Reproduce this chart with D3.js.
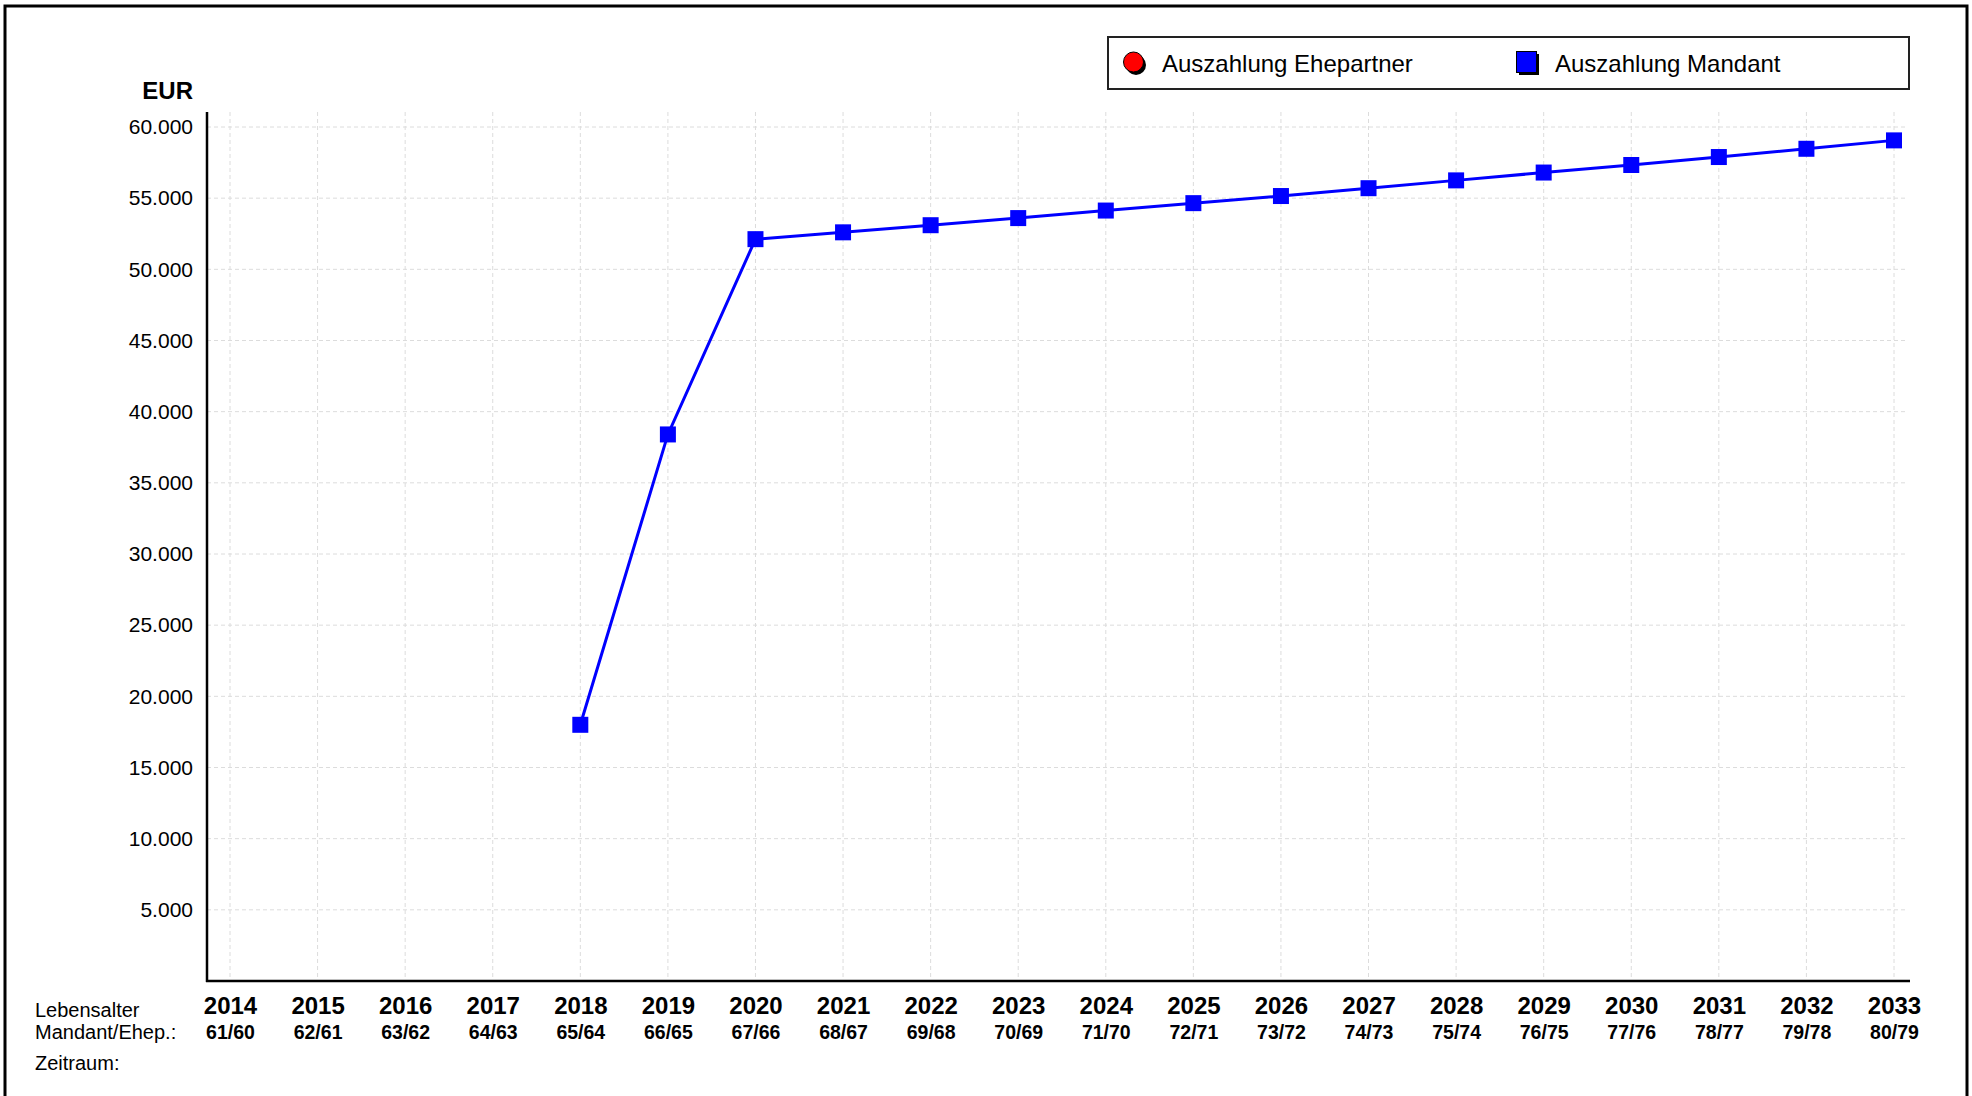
<!DOCTYPE html>
<html>
<head>
  <meta charset="utf-8">
  <title>Auszahlung</title>
  <script src="https://cdn.jsdelivr.net/npm/d3@7"></script>
  <style type="text/css">
    body {
      margin: 0;
      background: #fff;
      font-family: "Liberation Sans", Arial, Helvetica, sans-serif;
    }
    svg { display: block; }
    .grid line {
      stroke: #dcdcdc;
      stroke-width: 1;
      stroke-dasharray: 4,3;
    }
  </style>
</head>
<body>
  <svg id="chart" width="1972" height="1096"></svg>
  <script type="text/javascript">

  const years = ['2014','2015','2016','2017','2018','2019','2020','2021','2022','2023',
                 '2024','2025','2026','2027','2028','2029','2030','2031','2032','2033'];
  const ages = ['61/60','62/61','63/62','64/63','65/64','66/65','67/66','68/67','69/68','70/69',
                '71/70','72/71','73/72','74/73','75/74','76/75','77/76','78/77','79/78','80/79'];
  // Auszahlung Mandant, starts 2018
  const mandantYears = ['2018','2019','2020','2021','2022','2023','2024','2025',
                        '2026','2027','2028','2029','2030','2031','2032','2033'];
  const mandantValues = [18000, 38400, 52120, 52600, 53100, 53600, 54130, 54650,
                         55150, 55700, 56250, 56800, 57330, 57890, 58470, 59060];
  const yTicks = [5000,10000,15000,20000,25000,30000,35000,40000,45000,50000,55000,60000];
  const seriesNames = ['Auszahlung Ehepartner', 'Auszahlung Mandant'];

  const svg = d3.select('#chart');
  const fmt = d3.formatLocale({decimal: ',', thousands: '.', grouping: [3], currency: ['', ' EUR']}).format(',d');

  const x = d3.scalePoint().domain(years).range([230, 1894]);
  const y = d3.scaleLinear().domain([0, 60000]).range([981, 127]);
  const axisLeft = 207, axisRight = 1910, axisTop = 112;

  // outer frame
  svg.append('rect')
    .attr('x', 5).attr('y', 6).attr('width', 1962).attr('height', 1120)
    .attr('fill', 'none').attr('stroke', '#000').attr('stroke-width', 3);

  // grid
  const grid = svg.append('g').attr('class', 'grid');
  grid.selectAll('line.h').data(yTicks).enter().append('line')
    .attr('class', 'h')
    .attr('x1', axisLeft).attr('x2', axisRight - 3)
    .attr('y1', d => y(d)).attr('y2', d => y(d));
  grid.selectAll('line.v').data(years).enter().append('line')
    .attr('class', 'v')
    .attr('x1', d => x(d)).attr('x2', d => x(d))
    .attr('y1', axisTop).attr('y2', y(0));

  // y axis
  const yAxis = svg.append('g')
    .attr('transform', `translate(${axisLeft},0)`)
    .call(d3.axisLeft(y).tickValues(yTicks).tickSize(0).tickPadding(14).tickFormat(fmt));
  yAxis.select('.domain').remove();
  yAxis.selectAll('text')
    .attr('font-family', '"Liberation Sans", Arial, sans-serif')
    .attr('font-size', 21).attr('fill', '#000');

  svg.append('line')
    .attr('x1', axisLeft).attr('x2', axisLeft)
    .attr('y1', axisTop).attr('y2', y(0) + 1)
    .attr('stroke', '#000').attr('stroke-width', 2.5);
  svg.append('line')
    .attr('x1', axisLeft - 1).attr('x2', axisRight)
    .attr('y1', y(0)).attr('y2', y(0))
    .attr('stroke', '#000').attr('stroke-width', 2.5);

  svg.append('text')
    .attr('x', 193).attr('y', 99)
    .attr('text-anchor', 'end')
    .attr('font-size', 24).attr('font-weight', 'bold')
    .text('EUR');

  // x axis labels
  const xAxis = svg.append('g')
    .attr('transform', `translate(0,${y(0)})`)
    .call(d3.axisBottom(x).tickSize(0).tickPadding(0));
  xAxis.select('.domain').remove();
  xAxis.selectAll('text').remove();
  xAxis.selectAll('.tick').append('text')
    .attr('y', 33).attr('text-anchor', 'middle')
    .attr('font-family', '"Liberation Sans", Arial, sans-serif')
    .attr('font-size', 24).attr('font-weight', 'bold').attr('fill', '#000')
    .text(d => d);
  xAxis.selectAll('.tick').append('text')
    .attr('y', 58).attr('text-anchor', 'middle')
    .attr('font-family', '"Liberation Sans", Arial, sans-serif')
    .attr('font-size', 19.5).attr('font-weight', 'bold').attr('fill', '#000')
    .text((d, i) => ages[i]);

  const rowLabels = svg.append('g').attr('font-size', 20);
  rowLabels.append('text').attr('x', 35).attr('y', 1017).text('Lebensalter');
  rowLabels.append('text').attr('x', 35).attr('y', 1039).text('Mandant/Ehep.:');
  rowLabels.append('text').attr('x', 35).attr('y', 1070).text('Zeitraum:');

  // series
  const pts = mandantYears.map((yr, i) => ({year: yr, value: mandantValues[i]}));
  const line = d3.line().x(d => x(d.year)).y(d => y(d.value));
  svg.append('path').datum(pts)
    .attr('d', line)
    .attr('fill', 'none').attr('stroke', '#0000ff').attr('stroke-width', 3);
  svg.selectAll('rect.marker').data(pts).enter().append('rect')
    .attr('class', 'marker')
    .attr('x', d => x(d.year) - 8).attr('y', d => y(d.value) - 8)
    .attr('width', 16).attr('height', 16)
    .attr('fill', '#0000ff');

  // legend
  const legend = svg.append('g');
  legend.append('rect')
    .attr('x', 1108).attr('y', 37).attr('width', 801).attr('height', 52)
    .attr('fill', '#fff').attr('stroke', '#222').attr('stroke-width', 2);
  legend.append('circle').attr('cx', 1136).attr('cy', 65).attr('r', 10).attr('fill', '#000');
  legend.append('circle').attr('cx', 1133.5).attr('cy', 62).attr('r', 10)
    .attr('fill', '#ff0000').attr('stroke', '#000').attr('stroke-width', 1);
  legend.append('text').attr('x', 1162).attr('y', 72).attr('font-size', 24).text(seriesNames[0]);
  legend.append('rect').attr('x', 1519).attr('y', 54).attr('width', 20).attr('height', 21).attr('fill', '#000');
  legend.append('rect').attr('x', 1516.5).attr('y', 51.5).attr('width', 20).attr('height', 21)
    .attr('fill', '#0000ff').attr('stroke', '#000').attr('stroke-width', 1);
  legend.append('text').attr('x', 1555).attr('y', 72).attr('font-size', 24).text(seriesNames[1]);
  </script>
</body>
</html>
